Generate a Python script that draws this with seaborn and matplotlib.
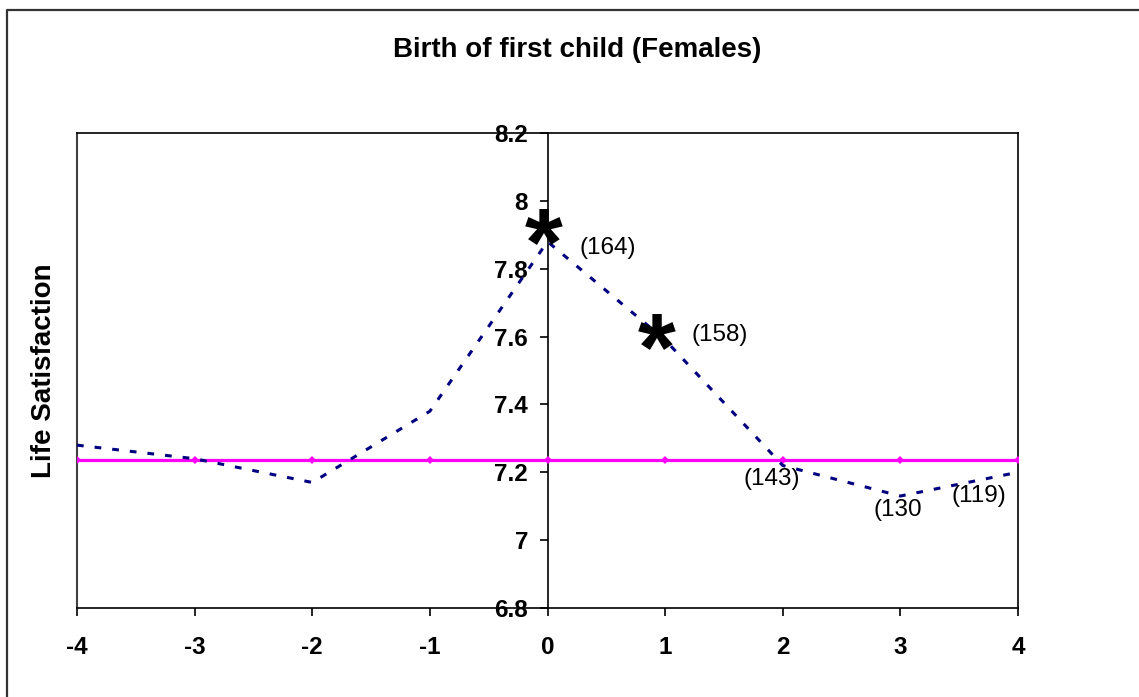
import matplotlib
matplotlib.use("Agg")
import matplotlib.pyplot as plt
from matplotlib.lines import Line2D
import seaborn as sns
import pandas as pd

# ---- data ----
years = [-4, -3, -2, -1, 0, 1, 2, 3, 4]
life_satisfaction = [7.28, 7.24, 7.17, 7.38, 7.88, 7.59, 7.22, 7.13, 7.20]
baseline = [7.235, 7.235, 7.235, 7.235, 7.235, 7.235, 7.235, 7.235, 7.235]

star_x = [-0.03, 0.93]
star_y = [7.92, 7.61]

n_labels = ["(164)", "(158)", "(143)", "(130", "(119)"]
n_label_x = [0.51, 1.46, 1.91, 2.98, 3.67]
n_label_y = [7.86, 7.605, 7.18, 7.09, 7.13]

y_ticks = [6.8, 7.0, 7.2, 7.4, 7.6, 7.8, 8.0, 8.2]
y_tick_labels = ["6.8", "7", "7.2", "7.4", "7.6", "7.8", "8", "8.2"]

title = "Birth of first child (Females)"
ylabel = "Life Satisfaction"

# ---- style ----
sns.set_style("white")
plt.rcParams["font.family"] = ["Liberation Sans", "DejaVu Sans"]
plt.rcParams["text.color"] = "black"
plt.rcParams["axes.labelcolor"] = "black"
plt.rcParams["xtick.color"] = "black"
plt.rcParams["ytick.color"] = "black"

W, H = 1139, 697
fig = plt.figure(figsize=(W / 100, H / 100), dpi=100)
ax = fig.add_axes([77 / W, 1 - 608 / H, 941 / W, 475 / H])

df = pd.DataFrame({"year": years, "ls": life_satisfaction, "base": baseline})

sns.lineplot(data=df, x="year", y="base", ax=ax, color="#FF00FF", lw=2.3,
             marker="D", markersize=4.5, markeredgewidth=0, zorder=3)
sns.lineplot(data=df, x="year", y="ls", ax=ax, color="#000080", lw=2.2,
             dashes=False, zorder=4)
ax.lines[-1].set_dashes((2.2, 3.6))

# axes styling (Excel-like): y axis crosses at x = 0
ax.spines["left"].set_position(("data", 0))
for s in ["left", "bottom", "top", "right"]:
    ax.spines[s].set_color("black")
    ax.spines[s].set_linewidth(1.2)
ax.axvline(-4, color="#404040", lw=1.5, clip_on=False, zorder=1)

ax.set_xlim(-4, 4)
ax.set_ylim(6.8, 8.2)
ax.set_xticks(years)
ax.set_xticklabels([str(v) for v in years], fontsize=17.5, fontweight="bold")
ax.set_yticks(y_ticks)
ax.set_yticklabels(y_tick_labels, fontsize=17.5, fontweight="bold")
ax.tick_params(axis="x", direction="out", length=6, width=1.2, pad=14,
               bottom=True, top=False, colors="black")
ax.tick_params(axis="y", direction="out", length=6, width=1.2, pad=8,
               left=True, right=False, colors="black")

ax.set_xlabel("")
ax.set_ylabel(ylabel, fontsize=20, fontweight="bold", color="black")
ax.yaxis.set_label_coords(-0.021, 0.5)

# asterisks for significance
for sx, sy in zip(star_x, star_y):
    ax.annotate("*", xy=(sx, sy), xytext=(0, -34), textcoords="offset points",
                ha="center", va="baseline", fontsize=70, fontweight="bold",
                color="black", zorder=6)

# sample size labels
for t, lx, ly in zip(n_labels, n_label_x, n_label_y):
    ax.text(lx, ly, t, ha="center", va="center", fontsize=17.5, color="black",
            zorder=6)

fig.text(577 / W, 1 - 57 / H, title, ha="center", va="baseline",
         fontsize=20, fontweight="bold", color="black")

# outer chart border (top and left visible)
fig.add_artist(Line2D([7 / W, 7 / W, 1.0], [0.0, 1 - 10 / H, 1 - 10 / H],
                      transform=fig.transFigure, color="#333333", lw=1.6))

fig.savefig("out.png", dpi=100)
